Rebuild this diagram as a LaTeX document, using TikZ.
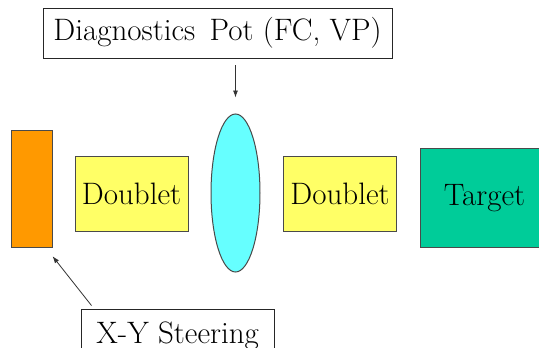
\documentclass[tikz,border=0pt]{standalone}
\usetikzlibrary{arrows.meta,shapes.geometric}
\definecolor{orangeC}{HTML}{FF9900}
\definecolor{yellowC}{HTML}{FFFF66}
\definecolor{cyanC}{HTML}{66FFFF}
\definecolor{targetC}{HTML}{00CC99}
\definecolor{edgeC}{HTML}{4A4A4A}
\tikzset{
  box/.style={draw=edgeC, line width=1pt, inner sep=0pt, font=\rmfamily\fontsize{31}{36}\selectfont},
  lbl/.style={draw=black!85, line width=0.9pt, fill=white, inner sep=0pt, font=\rmfamily\fontsize{31}{36}\selectfont},
  arr/.style={draw=black!80, line width=0.8pt, -{Latex[length=7pt,width=5pt]}}
}
\begin{document}
\begin{tikzpicture}[x=1pt,y=-1pt]
\useasboundingbox[fill=white] (0,0) rectangle (539,348);
\node[lbl, minimum width=349pt, minimum height=50pt] (diag) at (217.5,33) {Diagnostics\, Pot (FC, VP)};
\node[box, fill=orangeC, minimum width=40.7pt, minimum height=116.5pt] (steerel) at (31.7,189) {};
\node[box, fill=yellowC, minimum width=113pt, minimum height=75pt] (d1) at (131.5,193.5) {Doublet};
\node[box, fill=cyanC, ellipse, minimum width=49pt, minimum height=158pt] (pot) at (235.5,193) {};
\node[box, fill=yellowC, minimum width=112.5pt, minimum height=75pt] (d2) at (340,193.5) {Doublet};
\node[box, fill=targetC, minimum width=130pt, minimum height=99.5pt] (target) at (485,198) {\hspace*{-1pt}Target};
\node[lbl, minimum width=192.5pt, minimum height=53pt] (steer) at (177.7,335.5) {X-Y Steering};
\draw[arr, shorten <=7pt, shorten >=16pt] (pot.north |- diag.south) -- (pot.north);
\draw[arr] ([xshift=10.5pt,yshift=3pt]steer.north west) -- ([yshift=-8.5pt]steerel.south east);
\end{tikzpicture}
\end{document}
